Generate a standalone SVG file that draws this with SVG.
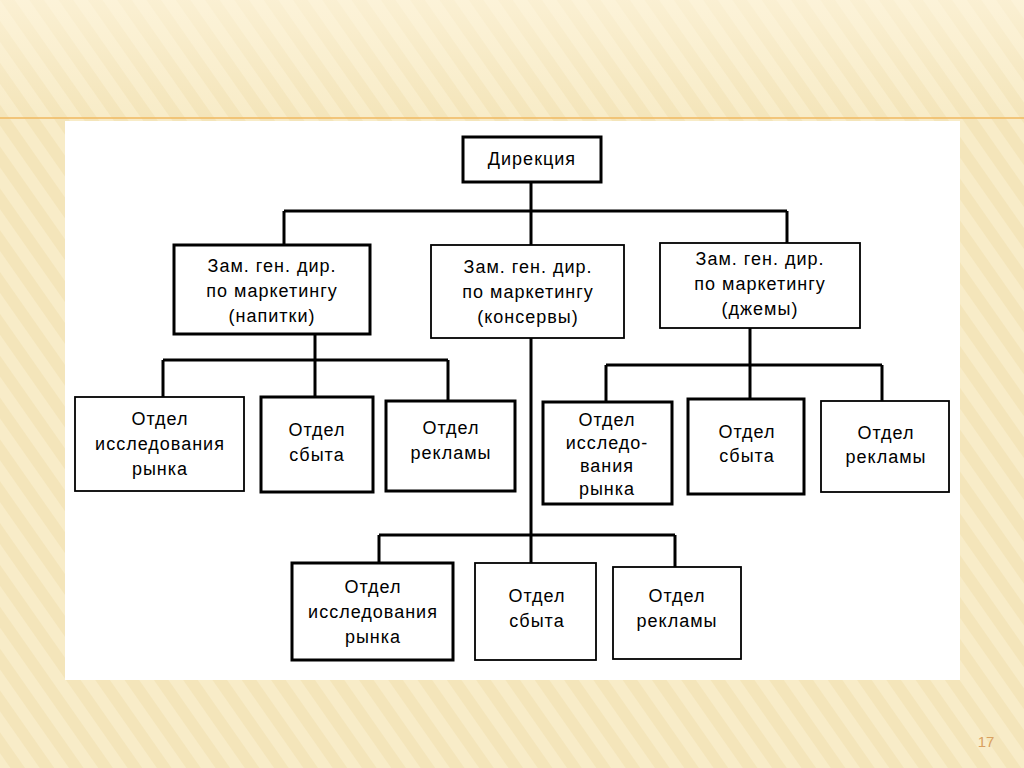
<svg xmlns="http://www.w3.org/2000/svg" width="1024" height="768" viewBox="0 0 1024 768">
<defs>
<pattern id="st" width="24" height="24" patternUnits="userSpaceOnUse" patternTransform="rotate(-35)">
<rect width="24" height="24" fill="#f8ecc8"/><rect width="12" height="24" fill="#f4e5ba"/>
</pattern>
<linearGradient id="top" x1="0" y1="0" x2="0" y2="1"><stop offset="0" stop-color="#fff7e3" stop-opacity="0.6"/><stop offset="1" stop-color="#fff7e3" stop-opacity="0"/></linearGradient>
</defs>
<style>
.n rect{fill:#fff;stroke:#000}
.k{stroke-width:3}.t{stroke-width:1.8}
text{font-family:"Liberation Sans",Arial,sans-serif;font-size:18px;fill:#000;text-anchor:middle;letter-spacing:1px}
#c line{stroke:#000;stroke-width:3}
</style>
<rect width="1024" height="768" fill="url(#st)"/>
<rect width="1024" height="118" fill="url(#top)"/>
<line x1="0" y1="118" x2="1024" y2="118" stroke="#f0b860" stroke-width="1.5"/>
<rect x="65" y="121" width="895" height="559" fill="#fff"/>
<g id="c">
<line x1="531" y1="182" x2="531" y2="563"/>
<line x1="284" y1="211" x2="787" y2="211"/>
<line x1="284" y1="211" x2="284" y2="245"/>
<line x1="787" y1="211" x2="787" y2="243"/>
<line x1="315" y1="334" x2="315" y2="397"/>
<line x1="163" y1="360" x2="448" y2="360"/>
<line x1="163" y1="360" x2="163" y2="397"/>
<line x1="448" y1="360" x2="448" y2="401"/>
<line x1="750" y1="328" x2="750" y2="399"/>
<line x1="606" y1="365" x2="882" y2="365"/>
<line x1="606" y1="365" x2="606" y2="402"/>
<line x1="882" y1="365" x2="882" y2="401"/>
<line x1="379" y1="535" x2="675" y2="535"/>
<line x1="379" y1="535" x2="379" y2="563"/>
<line x1="675" y1="535" x2="675" y2="567"/>
</g>
<g id="n0" class="n"><rect class="k" x="463" y="137" width="138" height="45"/><text x="532" y="165">Дирекция</text></g>
<g id="n1" class="n"><rect class="k" x="174" y="245" width="196" height="89"/><text x="272" y="272">Зам. ген. дир.</text><text x="272" y="297">по маркетингу</text><text x="272" y="322">(напитки)</text></g>
<g id="n2" class="n"><rect class="t" x="431" y="245" width="193" height="93"/><text x="528" y="273">Зам. ген. дир.</text><text x="528" y="298">по маркетингу</text><text x="528" y="323">(консервы)</text></g>
<g id="n3" class="n"><rect class="t" x="660" y="243" width="200" height="85"/><text x="760" y="265">Зам. ген. дир.</text><text x="760" y="290">по маркетингу</text><text x="760" y="315">(джемы)</text></g>
<g id="n4" class="n"><rect class="t" x="75" y="397" width="169" height="94"/><text x="160" y="425">Отдел</text><text x="160" y="450">исследования</text><text x="160" y="475">рынка</text></g>
<g id="n5" class="n"><rect class="k" x="261" y="397" width="112" height="95"/><text x="317" y="436">Отдел</text><text x="317" y="461">сбыта</text></g>
<g id="n6" class="n"><rect class="k" x="386" y="401" width="129" height="90"/><text x="451" y="434">Отдел</text><text x="451" y="459">рекламы</text></g>
<g id="n7" class="n"><rect class="k" x="543" y="402" width="129" height="102"/><text x="607" y="426">Отдел</text><text x="607" y="449">исследо-</text><text x="607" y="472">вания</text><text x="607" y="495">рынка</text></g>
<g id="n8" class="n"><rect class="k" x="688" y="399" width="116" height="95"/><text x="747" y="438">Отдел</text><text x="747" y="462">сбыта</text></g>
<g id="n9" class="n"><rect class="t" x="821" y="401" width="128" height="91"/><text x="886" y="439">Отдел</text><text x="886" y="463">рекламы</text></g>
<g id="n10" class="n"><rect class="k" x="292" y="563" width="161" height="97"/><text x="373" y="593">Отдел</text><text x="373" y="618">исследования</text><text x="373" y="643">рынка</text></g>
<g id="n11" class="n"><rect class="t" x="475" y="563" width="121" height="97"/><text x="537" y="602">Отдел</text><text x="537" y="627">сбыта</text></g>
<g id="n12" class="n"><rect class="t" x="613" y="567" width="128" height="92"/><text x="677" y="602">Отдел</text><text x="677" y="627">рекламы</text></g>
<text x="986" y="747" style="font-size:15px;fill:#d9a060;letter-spacing:0">17</text>
</svg>
